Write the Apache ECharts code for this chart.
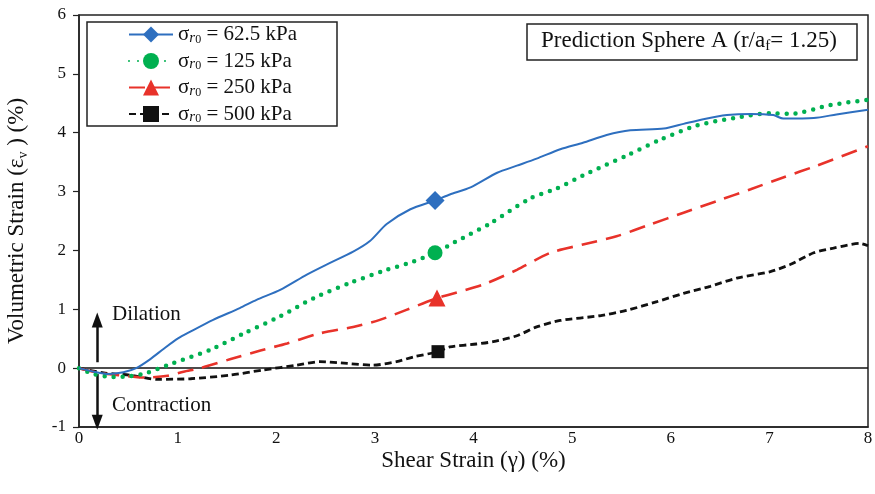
<!DOCTYPE html>
<html>
<head>
<meta charset="utf-8">
<script src="https://cdn.jsdelivr.net/npm/echarts@6/dist/echarts.min.js"></script>
<style>html,body{margin:0;padding:0;background:#fff;}#c{width:875px;height:494px;}</style>
</head>
<body>
<div id="c"></div>
<script>
// ---- data ----
const xTicks = [0, 1, 2, 3, 4, 5, 6, 7, 8];
const yTicks = [-1, 0, 1, 2, 3, 4, 5, 6];
const seriesNames = ['62.5 kPa', '125 kPa', '250 kPa', '500 kPa'];

const s62x = [0, 0.15, 0.3, 0.45, 0.58, 0.72, 0.86, 1.0, 1.13, 1.36, 1.63, 1.8, 2.04, 2.31, 2.51, 2.78, 2.95, 3.12, 3.36, 3.61, 3.76, 3.97, 4.24, 4.44, 4.64, 4.88, 5.11, 5.35, 5.59, 5.93, 6.13, 6.33, 6.57, 6.81, 7.04, 7.14, 7.45, 7.68, 8.0];
const s62y = [0, -0.06, -0.1, -0.07, 0, 0.15, 0.33, 0.5, 0.62, 0.82, 1.02, 1.16, 1.33, 1.59, 1.76, 1.98, 2.16, 2.45, 2.70, 2.85, 2.95, 3.07, 3.32, 3.44, 3.56, 3.72, 3.83, 3.96, 4.04, 4.07, 4.15, 4.23, 4.30, 4.32, 4.30, 4.24, 4.25, 4.31, 4.39];

const s125x = [0, 0.15, 0.35, 0.5, 0.69, 0.96, 1.33, 1.67, 2.04, 2.38, 2.75, 3.12, 3.39, 3.61, 3.81, 4.17, 4.57, 4.84, 5.18, 5.55, 5.89, 6.26, 6.64, 7.01, 7.21, 7.62, 8.0];
const s125y = [0, -0.1, -0.15, -0.14, -0.08, 0.09, 0.31, 0.59, 0.88, 1.19, 1.45, 1.67, 1.81, 1.96, 2.14, 2.46, 2.88, 3.05, 3.33, 3.61, 3.88, 4.12, 4.25, 4.33, 4.32, 4.47, 4.56];

const s250x = [0, 0.2, 0.4, 0.69, 0.9, 1.06, 1.23, 1.53, 1.84, 2.11, 2.44, 2.78, 3.05, 3.32, 3.63, 3.76, 4.10, 4.44, 4.78, 5.11, 5.45, 5.79, 6.13, 6.47, 6.81, 7.14, 7.48, 8.0];
const s250y = [0, -0.08, -0.12, -0.16, -0.13, -0.06, 0, 0.15, 0.3, 0.42, 0.59, 0.70, 0.82, 0.99, 1.19, 1.25, 1.42, 1.67, 1.96, 2.10, 2.24, 2.44, 2.64, 2.84, 3.04, 3.24, 3.44, 3.77];

const s500x = [0, 0.25, 0.52, 0.79, 1.13, 1.53, 1.87, 2.21, 2.44, 2.72, 2.98, 3.22, 3.39, 3.64, 3.76, 4.03, 4.20, 4.44, 4.64, 4.88, 5.28, 5.55, 5.86, 6.13, 6.40, 6.67, 7.01, 7.21, 7.45, 7.65, 7.92, 8.0];
const s500y = [0, -0.08, -0.12, -0.19, -0.18, -0.12, -0.03, 0.05, 0.11, 0.08, 0.05, 0.11, 0.19, 0.28, 0.36, 0.41, 0.45, 0.55, 0.70, 0.81, 0.89, 0.98, 1.13, 1.27, 1.39, 1.53, 1.64, 1.76, 1.96, 2.04, 2.12, 2.08];

// index of the single highlighted marker in each series
const markerIdx = [19, 13, 14, 13];

// ---- build ----
function build(xs, ys, mi) {
  return xs.map((x, i) => i === mi ? { value: [x, ys[i]] } : { value: [x, ys[i]], symbol: 'none' });
}
const FONT = '"Liberation Serif", "DejaVu Serif", serif';
const subRich = {
  s: { fontFamily: FONT, fontSize: 21, color: '#111', lineHeight: 22 },
  r: { fontFamily: FONT, fontSize: 15, fontStyle: 'italic', color: '#111', lineHeight: 10, verticalAlign: 'bottom' },
  z: { fontFamily: FONT, fontSize: 12, color: '#111', lineHeight: 2, verticalAlign: 'bottom' },
  t: { fontFamily: FONT, fontSize: 21, color: '#111', lineHeight: 22 }
};

const chart = echarts.init(document.getElementById('c'), null, { renderer: 'canvas' });
const specs = [
  { x: s62x, y: s62y, color: '#2e6fbf', symbol: 'diamond', size: 19, line: { width: 2, type: 'solid' } },
  { x: s125x, y: s125y, color: '#00b050', symbol: 'circle', size: 15, line: { width: 4.5, type: [0, 9], cap: 'round' } },
  { x: s250x, y: s250y, color: '#e8322a', symbol: 'triangle', size: 17, line: { width: 2.6, type: [16, 9] } },
  { x: s500x, y: s500y, color: '#111111', symbol: 'rect', size: 13, line: { width: 2.8, type: [7, 4] } }
];

const series = specs.map((sp, k) => ({
  name: seriesNames[k],
  type: 'line',
  data: build(sp.x, sp.y, markerIdx[k]),
  symbol: sp.symbol,
  symbolSize: sp.size,
  showSymbol: true,
  smooth: 0.25,
  z: 10 - k,
  itemStyle: { color: sp.color },
  lineStyle: Object.assign({ color: sp.color }, sp.line),
  animation: false
}));

// zero line and dilation/contraction arrows
series.push({
  type: 'line', data: [], silent: true, animation: false,
  markLine: {
    silent: true, animation: false, symbol: ['none', 'none'],
    label: { show: false },
    lineStyle: { color: '#111', width: 1.5, type: 'solid' },
    data: [{ yAxis: 0 }]
  }
});
series.push({
  type: 'line', data: [], silent: true, animation: false,
  markLine: {
    silent: true, animation: false, symbol: ['none', 'triangle'], symbolSize: [11, 15],
    label: { show: false },
    lineStyle: { color: '#111', width: 2.5, type: 'solid' },
    data: [
      [{ coord: [0.185, 0.1] }, { coord: [0.185, 0.82] }],
      [{ coord: [0.185, -0.1] }, { coord: [0.185, -0.92] }]
    ]
  }
});

chart.setOption({
  backgroundColor: '#fff',
  animation: false,
  textStyle: { fontFamily: FONT },
  grid: { left: 79, right: 7, top: 15, bottom: 67, show: true, borderColor: '#222', borderWidth: 1.5, containLabel: false, outerBoundsMode: 'none' },
  title: {
    text: '{a|Prediction Sphere A (r/a}{b|f}{a|= 1.25)}',
    left: 527, top: 22,
    padding: [6, 20, 6, 14],
    borderColor: '#222', borderWidth: 1.5,
    textStyle: {
      fontWeight: 'normal',
      rich: {
        a: { fontFamily: FONT, fontSize: 23, fontWeight: 'normal', color: '#111', lineHeight: 26 },
        b: { fontFamily: FONT, fontSize: 15, fontWeight: 'normal', color: '#111', lineHeight: 10, verticalAlign: 'bottom' }
      }
    }
  },
  legend: {
    orient: 'vertical',
    left: 87, top: 22,
    padding: [2, 40, 1, 41],
    borderColor: '#222', borderWidth: 1.5,
    itemWidth: 44, itemHeight: 20, itemGap: 5,
    data: seriesNames,
    formatter: name => '{s|σ}{r|r}{z|0}{t| = ' + name + '}',
    textStyle: { rich: subRich }
  },
  xAxis: {
    type: 'value', min: xTicks[0], max: xTicks[xTicks.length - 1], interval: 1,
    name: 'Shear Strain (γ) (%)', nameLocation: 'middle', nameGap: 22, nameMoveOverlap: false,
    nameTextStyle: { fontFamily: FONT, fontSize: 23, color: '#111' },
    axisLine: { show: true, onZero: false, lineStyle: { color: '#222', width: 1.5 } },
    axisTick: { show: false },
    axisLabel: { fontFamily: FONT, fontSize: 17, color: '#111', margin: 3 },
    splitLine: { show: false }
  },
  yAxis: {
    type: 'value', min: yTicks[0], max: yTicks[yTicks.length - 1], interval: 1,
    name: '{a|Volumetric Strain (ε}{b|v}{a| ) (%)}', nameLocation: 'middle', nameGap: 49, nameRotate: 90, nameMoveOverlap: false,
    nameTextStyle: { rich: {
      a: { fontFamily: FONT, fontSize: 23, color: '#111', lineHeight: 26 },
      b: { fontFamily: FONT, fontSize: 14, color: '#111', lineHeight: 10, verticalAlign: 'bottom' }
    } },
    axisLine: { show: true, onZero: false, lineStyle: { color: '#222', width: 1.5 } },
    axisTick: { show: true, length: 6, lineStyle: { color: '#222', width: 1.2 } },
    axisLabel: { fontFamily: FONT, fontSize: 17, color: '#111', margin: 13 },
    splitLine: { show: false }
  },
  graphic: [
    { type: 'text', left: 112, top: 304, style: { text: 'Dilation', font: '21px ' + FONT, fill: '#111' } },
    { type: 'text', left: 112, top: 395, style: { text: 'Contraction', font: '21px ' + FONT, fill: '#111' } }
  ],
  series: series
});
</script>
</body>
</html>
